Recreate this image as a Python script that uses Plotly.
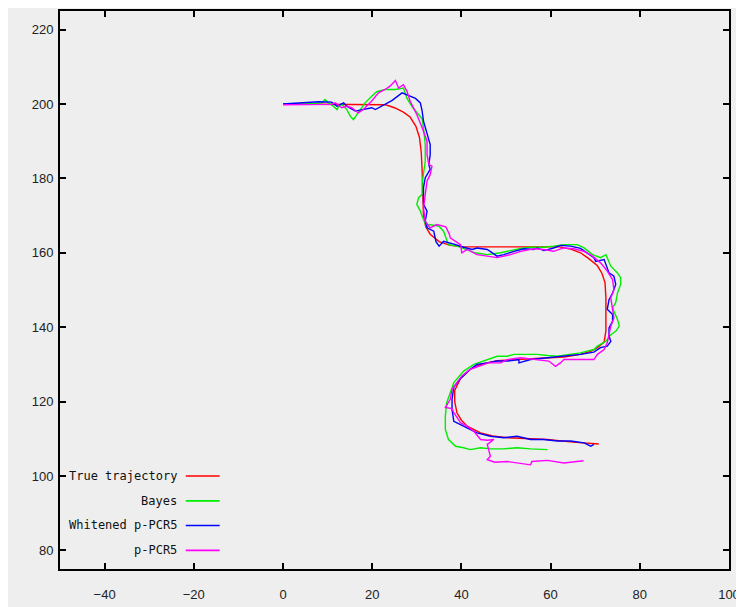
import plotly.graph_objects as go

# ---- data ----
true_x = [0, 5, 10, 15, 20, 23, 25, 27, 28.5, 29.8, 30.6, 31, 31.2, 31.3, 31.5, 32, 33, 35, 37.5, 40.5,
          45, 50, 55, 62, 64.5, 66.7, 68.5, 70.5, 71.5, 72.2, 72.4, 72.4, 72.4, 72, 70.5, 69, 66.7, 63,
          55.5, 48, 44.3, 42, 39.8, 38.5, 38.5, 39, 40, 41.3, 44.3, 47, 50.3, 55, 59.3, 65, 70.8]
true_y = [200, 200, 200, 200, 200, 199.8, 199, 197.8, 196.5, 194, 191, 187, 182, 176, 170, 167, 165, 163, 162, 161.6,
          161.6, 161.6, 161.6, 161.6, 161, 160, 158.5, 156.5, 154.5, 152, 148, 143, 139, 136, 134.5, 133.5, 132.7, 132,
          131.5, 131, 130, 128.7, 126.2, 123, 120, 117, 115, 113.4, 111.6, 110.8, 110.3, 110, 109.8, 109.1, 108.6]

bayes_x = [0, 3.4, 8.7, 9.4, 10.2, 11.3, 12.1, 12.5, 13.2, 14.3, 15.1, 15.8, 16.6, 17.3, 18.4, 19.9, 21, 22.9, 25.2, 27,
           27.8, 29, 30.5, 31.2, 31.5, 31.9, 31.9, 31.5, 31.2, 31.2, 30.4, 30, 30.8, 31.2, 31.9, 32.3, 32.7, 34.9, 36, 37.1,
           39, 41.3, 43.1, 45.8, 48.8, 51, 53.3, 55.5, 58.5, 60.7, 62.9, 66, 67.5, 69.4, 71.2, 72.4, 73.5, 75, 75.7, 75.7,
           75, 74.6, 73.9, 74.2, 75, 75.4, 74.6, 73.5, 72.4, 70.5, 69.7, 66.7, 64.5, 61.5, 59.3, 57, 51.8, 50.3, 48, 45,
           42.8, 40.5, 38.3, 37.5, 36.7, 36.4, 36.4, 37.1, 38.7, 40.5, 42, 44.3, 46.5, 49.5, 52.5, 55.5, 59.3]
bayes_y = [200, 199.9, 200.3, 201.2, 200.3, 199.4, 198.5, 199.4, 199.9, 198.5, 196.7, 195.8, 197.2, 198.5, 200.3, 202.1, 203.3, 203.9, 203.9, 204.3,
           201.5, 199.2, 197.2, 196, 193.6, 189.1, 184.6, 181, 178.8, 175.7, 174.8, 173, 171.2, 169.8, 167.6, 166.7, 167.6, 167.2, 165.8, 162.2,
           161.8, 160.9, 160, 159.5, 160, 160.6, 161.2, 161.5, 161.5, 161.8, 162.2, 162.2, 161.3, 159.5, 158.7, 159.5, 156.4, 154.6, 153.3, 151.5,
           149.2, 146.6, 145.2, 144.3, 142.1, 140.3, 138.9, 138, 136.2, 134.9, 134, 133.1, 132.7, 132.2, 132.4, 132.7, 132.7, 132.2, 132.2, 130.9,
           130, 128.2, 125.1, 122.4, 119.7, 116.1, 112.5, 109.8, 108, 107.6, 107.1, 107.6, 107.3, 107.3, 107.6, 107.3, 107.1]

white_x = [0, 2, 5, 8, 10.9, 12.1, 13.6, 14.3, 16.2, 17.7, 19.9, 20.7, 22.2, 24.4, 26.7, 27.8, 29.7, 30.8, 31.2, 31.5,
           32.3, 33, 33, 32.7, 33, 31.9, 31.5, 31.5, 32.3, 31.9, 32.3, 33.8, 34.3, 35, 36, 37.5, 38.7, 40.5, 42.4, 43.5,
           45.8, 48, 49.5, 51.8, 54, 56.2, 57, 58.5, 60.7, 62.2, 64.5, 66.7, 68.2, 69.7, 70.1, 72, 73.1, 74.2, 74.6, 73.9,
           73.1, 72.7, 73.9, 73.9, 73.1, 73.1, 73.5, 72.7, 71.2, 69.7, 66.7, 63, 59.3, 55.5, 52.9, 52.9, 50.3, 48, 45.8, 43.5,
           42, 39.8, 38.3, 37.9, 37.9, 38.3, 39, 40.5, 42, 43.5, 46.5, 49.5, 52.5, 55.5, 58.5, 61.5, 64.5, 67.5, 69, 69.7]
white_y = [200, 200.2, 200.5, 200.6, 200.5, 199.4, 200.3, 199.4, 198.1, 198.5, 199, 198.5, 199.4, 200.9, 203, 202.4, 201.5, 200.3, 198.1, 195.4,
           191.8, 189.1, 186.4, 183.7, 182.4, 180.2, 177.5, 173, 171.2, 168.5, 166.7, 165.8, 163, 161.8, 163.1, 162.7, 162.2, 161.5, 160.9, 161.3,
           160.9, 159.1, 159.5, 160.4, 161.1, 160.9, 161.3, 160.6, 161.3, 162, 161.8, 161.2, 160, 158.7, 157.7, 158.2, 154.6, 153.7, 151.5, 149.2,
           147.4, 144.8, 143.4, 141.6, 139.8, 137.6, 136.2, 134.9, 134.5, 133.3, 132.7, 132.2, 131.8, 131.3, 130.4, 131.3, 130.9, 130.9, 130.4, 130,
           128.7, 126.2, 123.9, 120.6, 117.9, 114.7, 114.3, 113.4, 112.5, 111.6, 110.7, 110.3, 110.7, 109.8, 109.8, 109.4, 109.4, 108.9, 108, 108.5]

pcr_x = [0, 5, 10.9, 11.7, 13.2, 14.3, 15.4, 16.9, 18, 19.9, 21.4, 22.9, 24, 25.2, 25.9, 27, 27.8, 28.5, 30, 31.2,
         32.3, 32.3, 32.7, 33.4, 33, 32.3, 31.9, 31.5, 31.9, 33, 34.5, 36.5, 37.3, 37.5, 39.8, 40.1, 41.3, 43.5, 45.8, 48,
         51, 53.3, 56.2, 58.5, 60.7, 62.9, 65.2, 67.5, 69.4, 71.2, 72.7, 73.9, 74.2, 73.5, 73.9, 74.2, 73.5, 73.1, 72.7, 72,
         70.5, 69.7, 66, 63, 62.2, 61.1, 59.6, 57, 53.3, 50.3, 48.8, 46.1, 43.9, 42, 40.1, 38.5, 37.9, 37.5, 36.4, 37.9,
         38.3, 39.8, 41.3, 42.8, 44.3, 45.8, 47.3, 45.8, 46.1, 46.5, 45.8, 47.5, 50.3, 53.3, 55.5, 55.8, 59.3, 63, 66.7, 67.4]
pcr_y = [199.8, 199.8, 199.9, 200.3, 199, 199.4, 199, 197.6, 198.5, 200.8, 203, 203.9, 204.8, 206.3, 204.3, 205.2, 203.4, 200.8, 197.2, 193.6,
         190, 186.4, 183.7, 183.3, 181, 179.3, 175.7, 172.1, 168.5, 166.7, 167.6, 167, 165, 164, 162.2, 160, 160.9, 159.5, 159.1, 158.7,
         159.5, 160.4, 161.1, 160.9, 160.4, 161.3, 161.1, 160.4, 159.1, 157.3, 155.1, 152.8, 150.1, 147.9, 144.8, 142.5, 140.3, 138, 135.8, 134,
         132.7, 131.3, 131.3, 131.3, 130.4, 129.5, 130.9, 131.3, 131.8, 131.3, 130.4, 130.4, 129.5, 128.7, 126.9, 124.5, 123.3, 120.6, 118.4, 118.1,
         117, 114.3, 113.4, 112, 109.8, 109.6, 109.8, 108.5, 107.1, 105.3, 104.4, 103.7, 103.9, 103.4, 103.0, 103.9, 104.2, 103.5, 104.0, 104.1]

series_names = ["True trajectory", "Bayes", "Whitened p-PCR5", "p-PCR5"]
series_colors = ["#ff0000", "#00ee00", "#0000ff", "#ff00ff"]
series_x = [true_x, bayes_x, white_x, pcr_x]
series_y = [true_y, bayes_y, white_y, pcr_y]

x_ticks = [-40, -20, 0, 20, 40, 60, 80, 100]
y_ticks = [80, 100, 120, 140, 160, 180, 200, 220]

fig = go.Figure()
for name, col, xs, ys in zip(series_names, series_colors, series_x, series_y):
    fig.add_trace(go.Scatter(x=xs, y=ys, mode="lines", name=name,
                             line=dict(color=col, width=1.4), showlegend=False))

# legend drawn gnuplot-style: right-aligned text then the line sample
legend_y = [100, 93.3, 86.7, 80]
for name, col, ly in zip(series_names, series_colors, legend_y):
    fig.add_annotation(x=-23.4, y=ly, xref="x", yref="y", text=name, showarrow=False,
                       xanchor="right", yanchor="middle",
                       font=dict(family="DejaVu Sans Mono", size=12, color="#111"))
    fig.add_shape(type="line", xref="x", yref="y", x0=-21.8, x1=-14.2, y0=ly, y1=ly,
                  line=dict(color=col, width=1.6))

axis_common = dict(showgrid=False, zeroline=False, showline=True, linecolor="black", linewidth=2,
                   mirror="allticks", ticks="inside", ticklen=6, tickwidth=2, tickcolor="black",
                   automargin=False,
                   tickfont=dict(family="Liberation Sans", size=13, color="#222"))

fig.update_xaxes(range=[-50, 100], tickvals=x_ticks, ticklabelstandoff=12, **axis_common)
fig.update_yaxes(range=[75, 225], tickvals=y_ticks, ticklabelstandoff=2, **axis_common)

# the page places the figure 8px in from the top-left corner, so the size and
# margins are reduced to keep the plot frame where the reference has it
fig.update_layout(width=736, height=599, margin=dict(l=52, r=15, t=3, b=38),
                  paper_bgcolor="#eeeeee", plot_bgcolor="#eeeeee")

fig.write_html("out.html")
